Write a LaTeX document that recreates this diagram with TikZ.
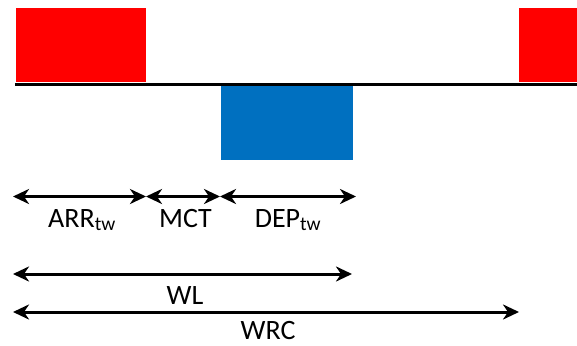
\documentclass[tikz,border=0pt]{standalone}
\usepackage{fontspec}
\setmainfont{Carlito}
\usetikzlibrary{arrows.meta}
\definecolor{redbox}{HTML}{FF0000}
\definecolor{bluebox}{HTML}{0070C0}
\tikzset{
  fillbox/.style={draw=none, inner sep=0pt, outer sep=0pt},
  dim/.style={line width=3pt, {Stealth[length=16pt,width=15pt,inset=5pt]}-{Stealth[length=16pt,width=15pt,inset=5pt]}},
  lbl/.style={inner sep=0pt, anchor=base, font=\fontsize{28}{33}\selectfont},
  base/.style={line width=3.5pt}
}
\begin{document}
\begin{tikzpicture}[x=1pt,y=-1pt]
\useasboundingbox (0,0) rectangle (577,345);
% boxes
\node[fillbox, fill=redbox, minimum width=130pt, minimum height=74pt] (r1) at (81,45) {};
\node[fillbox, fill=redbox, minimum width=58pt, minimum height=74pt] (r2) at (548,45) {};
\node[fillbox, fill=bluebox, minimum width=132pt, minimum height=74pt] (b1) at (287,123) {};
% base line
\coordinate (l0) at (15,84.3);
\coordinate (l1) at (577,84.3);
\draw[base] (l0) -- (l1);
% dimension points
\coordinate (a0) at (13,196.5);
\coordinate (a1) at (146,196.5);
\coordinate (a2) at (220,196.5);
\coordinate (a3) at (356,196.5);
\coordinate (w0) at (13,274);
\coordinate (w1) at (352,274);
\coordinate (c0) at (13,312);
\coordinate (c1) at (519,312);
\draw[dim] (a0) -- (a1);
\draw[dim] (a1) -- (a2);
\draw[dim] (a2) -- (a3);
\draw[dim] (w0) -- (w1);
\draw[dim] (c0) -- (c1);
% labels
\node[lbl] (arr) at (82,227) {ARR\textsubscript{tw}};
\node[lbl] (mct) at (185.5,227) {MCT};
\node[lbl] (dep) at (288,227) {DEP\textsubscript{tw}};
\node[lbl] (wl) at (185,304) {WL};
\node[lbl] (wrc) at (268,339) {WRC};
\end{tikzpicture}
\end{document}
